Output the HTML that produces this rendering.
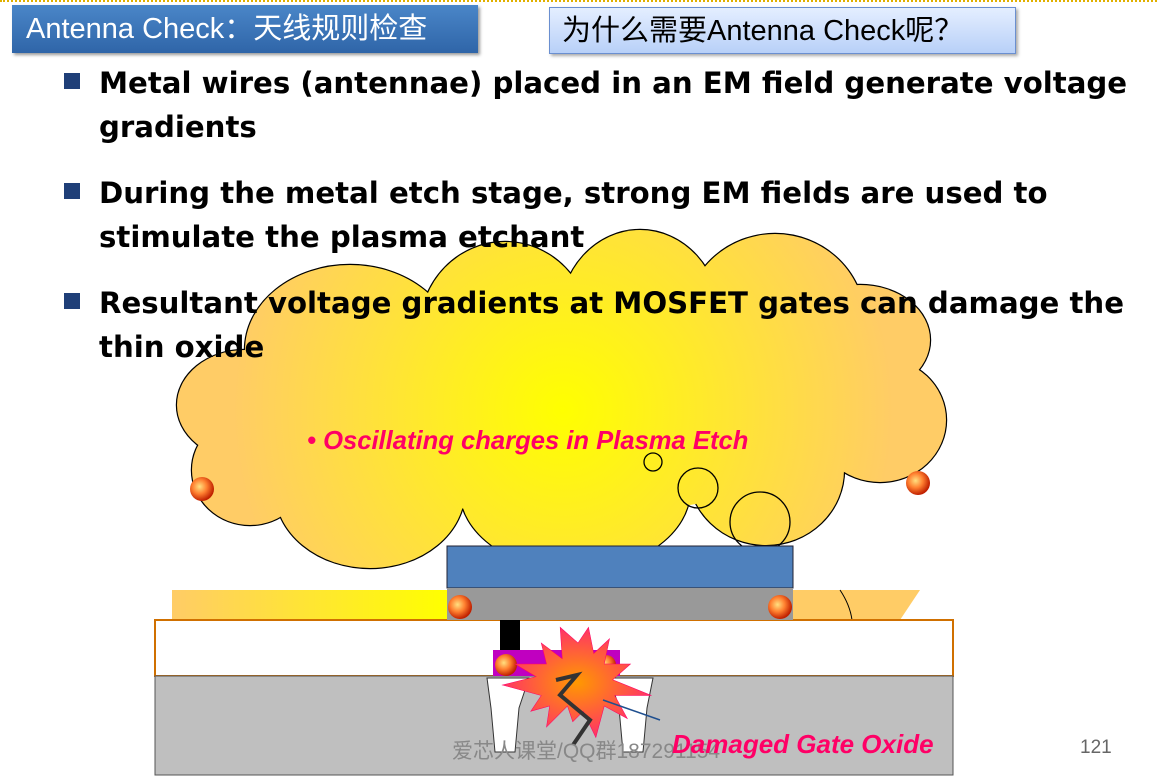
<!DOCTYPE html><html><head><meta charset="utf-8"><style>
body{margin:0;width:1157px;height:782px;background:#fff;overflow:hidden;position:relative;font-family:"Liberation Sans","Noto Sans CJK SC",sans-serif}
.t1{position:absolute;left:12px;top:5px;width:466px;height:48px;background:linear-gradient(#4a86c8,#2f65a8);color:#fff;font-size:29px;line-height:48px;padding-left:14px;box-sizing:border-box;box-shadow:2px 2px 3px #999}
.t2{position:absolute;left:549px;top:7px;width:467px;height:47px;background:linear-gradient(#e4eeff,#b8d0f8);border:1px solid #6a8fd0;color:#000;font-size:29px;line-height:47px;padding-left:12px;box-sizing:border-box;box-shadow:2px 2px 3px #aaa}
.b{position:absolute;left:99px;font-family:"DejaVu Sans",sans-serif;font-weight:bold;font-size:29.2px;line-height:44px;color:#000;width:1050px;white-space:nowrap}
.sq{position:absolute;left:64px;width:16px;height:16px;background:#1f3f78}
</style></head><body>
<div style="position:absolute;left:0;top:0;width:1157px;height:2px;border-top:2px dotted #e0b000"></div>
<svg width="1157" height="782" style="position:absolute;left:0;top:0">
<defs><radialGradient id="g" gradientUnits="userSpaceOnUse" cx="563" cy="410" r="330"><stop offset="0" stop-color="#ffff00"/><stop offset="1" stop-color="#ffcc66"/></radialGradient>
<linearGradient id="y" x1="0" x2="1"><stop offset="0" stop-color="#ffcc66"/><stop offset="1" stop-color="#ffff00"/></linearGradient>
<radialGradient id="ball" cx=".4" cy=".4" r=".6"><stop offset="0" stop-color="#ffe080"/><stop offset=".5" stop-color="#ff8030"/><stop offset="1" stop-color="#c02000"/></radialGradient>
<radialGradient id="ex"><stop offset="0" stop-color="#ff9900"/><stop offset="1" stop-color="#ff3366"/></radialGradient>
<g id="cl">
<ellipse cx="245" cy="405" rx="68" ry="55"/><ellipse cx="350" cy="350" rx="105" ry="85"/><ellipse cx="505" cy="330" rx="85" ry="88"/><ellipse cx="640" cy="318" rx="80" ry="88"/><ellipse cx="775" cy="322" rx="90" ry="88"/><ellipse cx="860" cy="340" rx="70" ry="55"/><ellipse cx="880" cy="420" rx="66" ry="62"/><ellipse cx="766" cy="470" rx="78" ry="75"/><ellipse cx="575" cy="490" rx="115" ry="80"/><ellipse cx="370" cy="490" rx="95" ry="78"/><ellipse cx="250" cy="470" rx="58" ry="55"/>
</g></defs>
<use href="#cl" stroke="#000" stroke-width="2.4" fill="url(#g)"/>
<use href="#cl" fill="url(#g)"/>
<ellipse cx="565" cy="405" rx="300" ry="110" fill="url(#g)"/>
<g fill="none" stroke="#000" stroke-width="1.3"><circle cx="653" cy="462" r="9"/><circle cx="698" cy="488" r="20"/><circle cx="760" cy="522" r="30"/></g>
<rect x="155" y="588" width="798" height="32" fill="#fff"/>
<rect x="172" y="590" width="275" height="30" fill="url(#y)"/>
<path d="M793 590H920L900 620H793Z" fill="#ffcc66"/>
<path d="M840 590Q850 605 852 620" stroke="#000" fill="none"/>
<rect x="155" y="620" width="798" height="56" fill="#fff" stroke="#d07000" stroke-width="2"/>
<rect x="155" y="676" width="798" height="99" fill="#bfbfbf" stroke="#555"/>
<path d="M487 678h42l-10 30 -4 44h-20l-4-44z M610 678h43l-6 30 -4 44h-20l-4-44z" fill="#fff" stroke="#333"/>
<rect x="447" y="546" width="346" height="42" fill="#4f81bd" stroke="#223"/>
<rect x="447" y="588" width="346" height="32" fill="#999"/>
<rect x="500" y="620" width="20" height="30" fill="#000"/>
<rect x="493" y="650" width="127" height="26" fill="#c000c0"/>
<g fill="url(#ball)"><ellipse cx="460" cy="607" rx="12" ry="12"/><ellipse cx="780" cy="607" rx="12" ry="12"/><circle cx="202" cy="489" r="12"/><circle cx="918" cy="483" r="12"/><circle cx="506" cy="665" r="11"/><circle cx="606" cy="665" r="10"/></g>
<polygon fill="url(#ex)" transform="translate(578,685) scale(1.05) translate(-575,-680)" points="575,640 585,625 590,650 605,636 600,660 625,660 608,675 645,690 610,690 622,712 600,700 592,730 580,705 570,715 565,700 545,720 548,700 530,705 540,690 503,680 535,672 515,660 545,660 540,640 560,655 558,625" stroke="#f06" stroke-width=".5"/>
<polyline points="556,680 577,675 560,695 590,720 573,745" fill="none" stroke="#333" stroke-width="4"/>
<line x1="603" y1="700" x2="660" y2="720" stroke="#1f4f8f" stroke-width="1.5"/>
</svg>
<div class="t1">Antenna Check：天线规则检查</div>
<div class="t2">为什么需要Antenna Check呢？</div>
<div class="sq" style="top:73px"></div><div class="b" style="top:61px">Metal wires (antennae) placed in an EM field generate voltage<br>gradients</div>
<div class="sq" style="top:183px"></div><div class="b" style="top:171px">During the metal etch stage, strong EM fields are used to<br>stimulate the plasma etchant</div>
<div class="sq" style="top:293px"></div><div class="b" style="top:281px">Resultant voltage gradients at MOSFET gates can damage the<br>thin oxide</div>
<div style="position:absolute;left:307px;top:427px;color:#ff0066;font-style:italic;font-weight:bold;font-size:25.6px">• Oscillating charges in Plasma Etch</div>
<div style="position:absolute;left:452px;top:735px;color:#888;font-size:21px">爱芯人课堂/QQ群187291154</div>
<div style="position:absolute;left:672px;top:729px;color:#ff0066;font-style:italic;font-weight:bold;font-size:26px">Damaged Gate Oxide</div>
<div style="position:absolute;left:1080px;top:737px;color:#666;font-size:19px">121</div>
</body></html>
